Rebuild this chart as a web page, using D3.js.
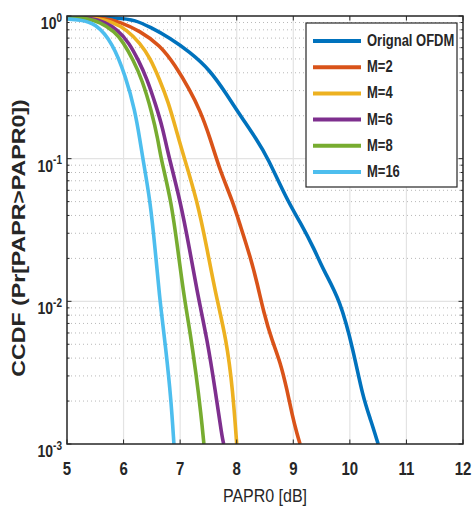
<!DOCTYPE html>
<html>
<head>
<meta charset="utf-8">
<script src="https://cdn.jsdelivr.net/npm/d3@7"></script>
<style>
  body { margin: 0; background: #fff; }
  text { font-family: "Liberation Sans", Arial, sans-serif; fill: #262626; }
</style>
</head>
<body>
<div id="chart"></div>
<script>
// Series data: [PAPR0 dB, CCDF]
const seriesNames = ["Orignal OFDM", "M=2", "M=4", "M=6", "M=8", "M=16"];
const seriesColors = ["#0072BD", "#D95319", "#EDB120", "#7E2F8E", "#77AC30", "#4DBEEE"];

const origOFDM = [[5.0,1],[5.94,0.968],[6.2,0.937],[6.47,0.837],[6.82,0.701],[7.17,0.559],[7.53,0.418],[7.83,0.279],
  [8.06,0.202],[8.36,0.135],[8.54,0.103],[8.89,0.0513],[9.12,0.036],[9.38,0.0229],[9.53,0.0166],[9.83,0.0102],
  [10.06,0.00456],[10.23,0.00213],[10.37,0.00147],[10.5,0.001]];
const m2 = [[5.0,1],[5.67,0.968],[5.94,0.908],[6.29,0.785],[6.64,0.626],[6.91,0.454],[7.17,0.303],[7.35,0.219],
  [7.53,0.14],[7.7,0.0833],[7.92,0.0513],[8.06,0.0343],[8.24,0.0205],[8.36,0.0135],[8.48,0.00828],[8.62,0.00536],
  [8.77,0.00376],[8.89,0.00239],[8.98,0.0016],[9.07,0.00116],[9.12,0.001]];
const m4 = [[5.0,1],[5.5,0.968],[5.81,0.908],[6.06,0.798],[6.29,0.647],[6.47,0.508],[6.64,0.356],[6.79,0.25],
  [6.93,0.159],[7.03,0.115],[7.3,0.0513],[7.48,0.0229],[7.62,0.0116],[7.82,0.00536],[7.93,0.00239],[8.0,0.001]];
const m6 = [[5.0,1],[5.41,0.968],[5.67,0.908],[5.9,0.798],[6.1,0.647],[6.26,0.492],[6.41,0.367],[6.57,0.238],
  [6.7,0.159],[6.77,0.115],[7.0,0.0513],[7.17,0.0229],[7.31,0.0111],[7.48,0.00536],[7.62,0.00239],[7.74,0.00112],[7.77,0.001]];
const m8 = [[5.0,1],[5.32,0.968],[5.58,0.908],[5.85,0.773],[5.99,0.657],[6.17,0.492],[6.33,0.356],[6.5,0.212],
  [6.61,0.135],[6.66,0.1],[6.84,0.0513],[6.96,0.0229],[7.07,0.0107],[7.17,0.0063],[7.28,0.00315],[7.37,0.0016],[7.42,0.001]];
const m16 = [[5.0,0.953],[5.23,0.938],[5.5,0.893],[5.81,0.647],[6.04,0.373],[6.2,0.219],[6.29,0.135],[6.34,0.1],
  [6.47,0.051],[6.56,0.0229],[6.64,0.0102],[6.75,0.00456],[6.84,0.00203],[6.89,0.001]];
const allSeries = [origOFDM, m2, m4, m6, m8, m16];

const xTicks = [5, 6, 7, 8, 9, 10, 11, 12];
const yExponents = [0, -1, -2, -3];

const W = 472, H = 513;
const margin = { top: 16, right: 9, bottom: 69, left: 67 };
const x0 = margin.left, x1 = W - margin.right, y0 = margin.top, y1 = H - margin.bottom;
const stretch = 1.2;

const svg = d3.select("#chart").append("svg")
  .attr("width", W).attr("height", H);

const x = d3.scaleLinear().domain([5, 12]).range([x0, x1]);
const y = d3.scaleLog().domain([1e-3, 1]).range([y1, y0]);

// minor grid (dotted) on the log axis
const minorVals = [];
[1e-3, 1e-2, 1e-1].forEach(d => { for (let k = 2; k <= 9; k++) minorVals.push(d * k); });
svg.append("g").selectAll("line").data(minorVals).enter().append("line")
  .attr("x1", x0).attr("x2", x1)
  .attr("y1", d => y(d)).attr("y2", d => y(d))
  .attr("stroke", "#b8b8b8").attr("stroke-width", 1)
  .attr("stroke-dasharray", "1,3");

// major grid
svg.append("g").selectAll("line").data(xTicks.slice(1, -1)).enter().append("line")
  .attr("x1", d => x(d)).attr("x2", d => x(d))
  .attr("y1", y0).attr("y2", y1)
  .attr("stroke", "#e3e3e3").attr("stroke-width", 1.2);
svg.append("g").selectAll("line").data(yExponents.slice(1, -1)).enter().append("line")
  .attr("x1", x0).attr("x2", x1)
  .attr("y1", d => y(Math.pow(10, d))).attr("y2", d => y(Math.pow(10, d)))
  .attr("stroke", "#e3e3e3").attr("stroke-width", 1.2);

// curves
svg.append("defs").append("clipPath").attr("id", "clip")
  .append("rect").attr("x", x0).attr("y", y0).attr("width", x1 - x0).attr("height", y1 - y0);

// b-spline smooths out small reading errors
const line = d3.line()
  .x(d => x(d[0]))
  .y(d => y(d[1]))
  .curve(d3.curveBasis);

const curves = svg.append("g").attr("clip-path", "url(#clip)");
allSeries.forEach((s, i) => {
  curves.append("path")
    .datum(s)
    .attr("d", line)
    .attr("fill", "none")
    .attr("stroke", seriesColors[i])
    .attr("stroke-width", 3.6)
    .attr("stroke-linejoin", "round");
});

// ticks (inward, on all four sides)
const tickLen = 4.5, minorLen = 2.5;
const ticks = svg.append("g").attr("stroke", "#262626").attr("stroke-width", 1);
xTicks.forEach(t => {
  ticks.append("line").attr("x1", x(t)).attr("x2", x(t)).attr("y1", y1).attr("y2", y1 - tickLen);
  ticks.append("line").attr("x1", x(t)).attr("x2", x(t)).attr("y1", y0).attr("y2", y0 + tickLen);
});
yExponents.forEach(e => {
  const yy = y(Math.pow(10, e));
  ticks.append("line").attr("x1", x0).attr("x2", x0 + tickLen).attr("y1", yy).attr("y2", yy);
  ticks.append("line").attr("x1", x1).attr("x2", x1 - tickLen).attr("y1", yy).attr("y2", yy);
});
minorVals.forEach(v => {
  ticks.append("line").attr("x1", x0).attr("x2", x0 + minorLen).attr("y1", y(v)).attr("y2", y(v));
  ticks.append("line").attr("x1", x1).attr("x2", x1 - minorLen).attr("y1", y(v)).attr("y2", y(v));
});

// axes box
svg.append("rect")
  .attr("x", x0).attr("y", y0).attr("width", x1 - x0).attr("height", y1 - y0)
  .attr("fill", "none").attr("stroke", "#262626").attr("stroke-width", 1.5);

// x tick labels
xTicks.forEach(t => {
  svg.append("text")
    .attr("transform", `translate(${x(t)},${y1 + 31}) scale(1,${stretch})`)
    .attr("text-anchor", "middle")
    .style("font-size", "15px").style("font-weight", "bold")
    .text(t);
});

// y tick labels 10^n
yExponents.forEach(e => {
  const t = svg.append("text")
    .attr("transform", `translate(${x0 - 5},${y(Math.pow(10, e)) + 13}) scale(1,${stretch})`)
    .attr("text-anchor", "end")
    .style("font-weight", "bold");
  t.append("tspan").style("font-size", "14px").text("10");
  t.append("tspan").style("font-size", "10px").attr("dy", -6).text(e);
});

// axis labels
svg.append("text")
  .attr("transform", `translate(${(x0 + x1) / 2},${y1 + 58}) scale(1,${stretch})`)
  .attr("text-anchor", "middle")
  .style("font-size", "16px")
  .text("PAPR0 [dB]");

svg.append("text")
  .attr("transform", `translate(25,${(y0 + y1) / 2 + 8}) scale(1,1.25) rotate(-90)`)
  .attr("text-anchor", "middle")
  .style("font-size", "18.5px").style("font-weight", "bold")
  .text("CCDF (Pr[PAPR>PAPR0])");

// legend
const legend = svg.append("g");
legend.append("rect")
  .attr("x", 306).attr("y", 23).attr("width", 151).attr("height", 164)
  .attr("fill", "#fff").attr("stroke", "#262626").attr("stroke-width", 1.2);
seriesNames.forEach((name, i) => {
  const ly = 41 + i * 26.2;
  legend.append("line")
    .attr("x1", 313).attr("x2", 361).attr("y1", ly).attr("y2", ly)
    .attr("stroke", seriesColors[i]).attr("stroke-width", 4);
  legend.append("text")
    .attr("transform", `translate(367,${ly + 5}) scale(1,${stretch})`)
    .style("font-size", "13px").style("font-weight", "bold")
    .text(name);
});
</script>
</body>
</html>
